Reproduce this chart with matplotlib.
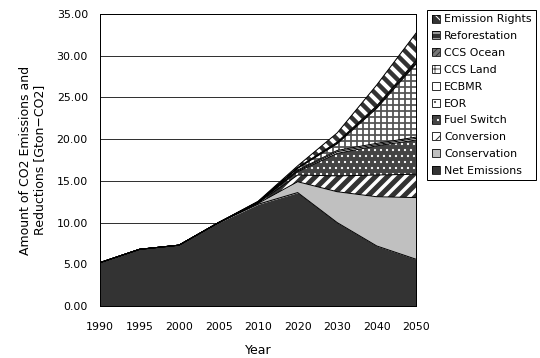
import matplotlib
matplotlib.use("Agg")
import matplotlib.pyplot as plt
from matplotlib.patches import Patch

plt.rcParams['font.family'] = ['DejaVu Sans']

years = ['1990', '1995', '2000', '2005', '2010', '2020', '2030', '2040', '2050']

# stacked layers, bottom to top [Gton-CO2]
net_emissions = [5.2, 6.8, 7.3, 10.0, 12.2, 13.6, 10.0, 7.2, 5.6]
conservation = [0, 0, 0, 0, 0.1, 1.3, 3.7, 5.9, 7.4]
conversion = [0, 0, 0, 0, 0.05, 0.8, 1.9, 2.6, 2.8]
fuel_switch = [0, 0, 0, 0, 0.05, 0.4, 2.7, 3.5, 4.1]
eor = [0, 0, 0, 0, 0.02, 0.1, 0.2, 0.15, 0.2]
ecbmr = [0, 0, 0, 0, 0.02, 0.1, 0.15, 0.15, 0.15]
ccs_land = [0, 0, 0, 0, 0.03, 0.2, 0.8, 4.2, 8.8]
ccs_ocean = [0, 0, 0, 0, 0.02, 0.05, 0.1, 0.15, 0.2]
reforestation = [0, 0, 0, 0, 0.02, 0.05, 0.1, 0.15, 0.2]
emission_rights = [0, 0, 0, 0, 0.05, 0.2, 1.1, 2.5, 3.3]

labels = ['Net Emissions', 'Conservation', 'Conversion', 'Fuel Switch', 'EOR',
          'ECBMR', 'CCS Land', 'CCS Ocean', 'Reforestation', 'Emission Rights']
series = [net_emissions, conservation, conversion, fuel_switch, eor,
          ecbmr, ccs_land, ccs_ocean, reforestation, emission_rights]

# face colour, hatch colour, hatch, hatch line width
styles = [
    ('#333333', '#333333', None, 1),
    ('#c0c0c0', '#c0c0c0', None, 1),
    ('white', '#333333', '//', 5),
    ('#444444', 'white', '..', 1),
    ('white', '#555555', '..', 1),
    ('white', 'white', None, 1),
    ('white', '#555555', '++', 1.8),
    ('#777777', '#333333', '////', 1),
    ('#333333', 'white', '--', 1),
    ('#333333', 'white', '\\\\', 4),
]

fig = plt.figure(figsize=(7.5, 358 / 72), dpi=72)
ax = fig.add_axes([0.185, 0.145, 0.586, 0.816])

x = list(range(len(years)))
bottom = [0.0] * len(x)
handles = []
for vals, lab, (fc, hc, hatch, hlw) in zip(series, labels, styles):
    top = [b + v for b, v in zip(bottom, vals)]
    with plt.rc_context({'hatch.linewidth': hlw}):
        coll = ax.fill_between(x, bottom, top, facecolor=fc, edgecolor=hc,
                               hatch=hatch, linewidth=0, zorder=2)
        if hasattr(coll, 'set_hatch_linewidth'):
            coll.set_hatch_linewidth(hlw)
        fill = Patch(facecolor=fc, edgecolor=hc, hatch=hatch, linewidth=0)
    ax.plot(x, top, color='black', lw=1.0, zorder=3)
    box = Patch(facecolor='none', edgecolor='black', linewidth=0.8)
    handles.append((fill, box))
    bottom = top

ax.set_xlim(0, len(x) - 1)
ax.set_ylim(0, 35)
ax.set_yticks(range(0, 36, 5))
ax.set_yticklabels([f'{v:.2f}' for v in range(0, 36, 5)], fontsize=11)
ax.set_xticks(x)
ax.set_xticklabels(years, fontsize=11)
ax.tick_params(axis='x', direction='in', length=4, pad=16)
ax.tick_params(axis='y', length=0, pad=12)
ax.grid(axis='y', color='black', lw=0.8, zorder=1)
ax.set_axisbelow(True)
for s in ax.spines.values():
    s.set_color('black')
    s.set_linewidth(1)
    s.set_zorder(4)

ax.set_xlabel('Year', fontsize=12.5, labelpad=12)
ax.set_ylabel('Amount of CO2 Emissions and\nReductions [Gton\u2212CO2]',
              fontsize=12.5, labelpad=10)

leg = fig.legend(handles[::-1], labels[::-1], loc='upper left',
                 bbox_to_anchor=(0.791, 0.972), fontsize=11, frameon=True,
                 fancybox=False, edgecolor='black', framealpha=1,
                 handlelength=0.75, handleheight=0.75, handletextpad=0.4,
                 labelspacing=0.62, borderpad=0.4, borderaxespad=0)
leg.get_frame().set_linewidth(1)

fig.savefig('out.png', dpi=72)
